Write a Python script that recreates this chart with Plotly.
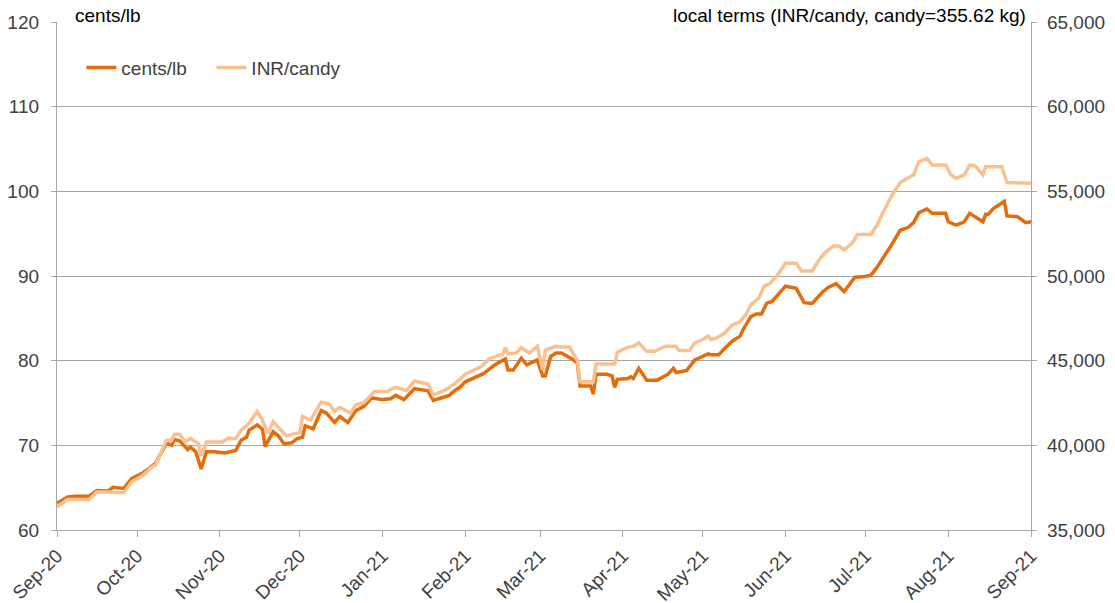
import pandas as pd
import plotly.graph_objects as go

START = "2020-09-01"

# cents/lb series: days since START and values
cents_days = [0, 4, 7, 12, 15, 19, 21, 25, 28, 32, 35, 37, 41, 43, 44, 46, 49, 50, 52, 54,
              56, 59, 63, 67, 69, 71, 72, 75, 77, 78, 81, 83, 85, 88, 90, 92, 93, 96, 99, 101,
              104, 106, 109, 112, 115, 118, 122, 125, 127, 130, 134, 139, 141, 145, 147, 149, 151, 153, 155, 158,
              160, 164, 166, 168, 169, 171, 174, 176, 180, 182, 183, 185, 187, 189, 193, 195, 196, 200, 201, 202,
              206, 208, 209, 210, 214, 215, 216, 218, 221, 225, 229, 231, 232, 236, 239, 244, 245, 248, 251, 253,
              256, 257, 260, 262, 264, 266, 268, 270, 273, 277, 280, 283, 287, 289, 292, 295, 299, 302, 305, 307,
              310, 312, 316, 319, 321, 323, 326, 328, 333, 334, 337, 340, 342, 345, 347, 348, 349, 351, 353, 355,
              356, 360, 363, 365]
cents = [63.15, 63.9, 64.0, 64.0, 64.65, 64.6, 65.05, 64.9, 66.1, 66.7, 67.4, 67.9, 70.25, 70.0, 70.7, 70.5, 69.5, 69.8, 69.25, 67.2,
         69.25, 69.25, 69.1, 69.4, 70.6, 70.95, 71.8, 72.4, 71.9, 69.85, 71.6, 71.1, 70.2, 70.3, 70.8, 70.95, 72.3, 71.95, 74.1, 73.8,
         72.7, 73.4, 72.7, 74.1, 74.6, 75.6, 75.4, 75.5, 75.9, 75.4, 76.7, 76.45, 75.3, 75.75, 75.9, 76.45, 76.85, 77.5, 77.8, 78.3,
         78.5, 79.5, 79.9, 80.2, 78.9, 78.9, 80.3, 79.5, 80.1, 78.2, 78.2, 80.5, 80.9, 80.9, 80.2, 79.7, 77.0, 77.0, 76.05, 78.4,
         78.4, 78.2, 76.85, 77.8, 77.9, 78.1, 77.9, 79.1, 77.7, 77.7, 78.4, 79.1, 78.6, 78.85, 80.1, 80.8, 80.7, 80.7, 81.7, 82.3,
         82.9, 83.6, 85.2, 85.5, 85.5, 86.8, 87.0, 87.75, 88.8, 88.55, 86.85, 86.75, 88.15, 88.65, 89.1, 88.15, 89.85, 89.9, 90.1, 90.9,
         92.3, 93.3, 95.4, 95.75, 96.3, 97.5, 97.9, 97.4, 97.4, 96.4, 96.0, 96.4, 97.4, 96.8, 96.4, 97.3, 97.3, 98.0, 98.4, 98.8,
         97.1, 97.0, 96.3, 96.4]

# INR/candy series: days since START and values
inr_days = [0, 4, 12, 15, 19, 25, 28, 32, 35, 37, 41, 43, 44, 46, 48, 50, 53, 54, 56, 62,
            64, 67, 69, 71, 72, 75, 77, 79, 81, 83, 86, 88, 91, 92, 95, 99, 102, 104, 106, 110,
            112, 115, 119, 124, 125, 127, 131, 134, 139, 141, 145, 149, 153, 156, 159, 162, 166, 167, 168, 169,
            172, 174, 177, 180, 182, 183, 187, 189, 192, 195, 196, 201, 202, 209, 210, 214, 216, 218, 221, 224,
            228, 232, 233, 237, 239, 242, 244, 245, 247, 250, 253, 256, 258, 260, 263, 265, 267, 270, 273, 277,
            279, 283, 286, 288, 291, 293, 295, 298, 300, 305, 307, 310, 313, 316, 319, 321, 323, 326, 328, 333,
            335, 337, 340, 342, 344, 347, 348, 354, 356, 365]
inr = [36375, 36800, 36800, 37250, 37250, 37200, 37850, 38200, 38650, 38850, 40300, 40300, 40650, 40650, 40200, 40400, 40100, 39375, 40200, 40200,
       40400, 40400, 40900, 41200, 41300, 42000, 41500, 40700, 41400, 41050, 40550, 40650, 40750, 41700, 41500, 42550, 42450, 42000, 42250, 41900,
       42400, 42525, 43175, 43175, 43300, 43425, 43225, 43800, 43625, 42975, 43225, 43625, 44200, 44425, 44650, 45100, 45350, 45350, 45775, 45400,
       45450, 45775, 45450, 45850, 44450, 45625, 45850, 45800, 45800, 45000, 43750, 43750, 44800, 44800, 45500, 45800, 45850, 46050, 45550, 45550,
       45850, 45850, 45600, 45600, 46050, 46250, 46450, 46250, 46325, 46600, 47100, 47300, 47700, 48300, 48700, 49400, 49550, 50050, 50750, 50750,
       50300, 50300, 51050, 51400, 51775, 51775, 51550, 51950, 52450, 52450, 52925, 53900, 54800, 55525, 55775, 55975, 56750, 56950, 56550, 56550,
       55975, 55775, 55975, 56550, 56500, 55975, 56450, 56450, 55525, 55475]

month_ticks = pd.date_range("2020-09-01", "2021-09-01", freq="MS")

base = pd.Timestamp(START)
cents_dates = base + pd.to_timedelta(cents_days, unit="D")
inr_dates = base + pd.to_timedelta(inr_days, unit="D")

DARK = "#E46C0A"
LIGHT = "#FAC090"
GRID = "#A6A6A6"
FONT = "Liberation Sans, Arial, sans-serif"
FS = 19

fig = go.Figure()
fig.add_trace(go.Scatter(x=cents_dates, y=cents, name="cents/lb", mode="lines",
                         line=dict(color=DARK, width=3.5), yaxis="y"))
fig.add_trace(go.Scatter(x=inr_dates, y=inr, name="INR/candy", mode="lines",
                         line=dict(color=LIGHT, width=3.5), yaxis="y2"))

fig.update_layout(
    width=1115, height=603,
    margin=dict(l=57, r=84, t=22, b=73, autoexpand=False),
    paper_bgcolor="white", plot_bgcolor="white",
    font=dict(family=FONT, size=FS, color="#404040"),
    showlegend=True,
    legend=dict(orientation="h", x=0.025, y=0.91, xanchor="left", yanchor="middle",
                font=dict(size=FS, color="#404040"), bgcolor="rgba(0,0,0,0)",
                entrywidth=85, traceorder="normal"),
    xaxis=dict(type="date", range=["2020-09-01", "2021-09-01"],
               tickvals=month_ticks, tickformat="%b-%y", tickangle=-45,
               showgrid=False, showline=True, linecolor=GRID, linewidth=1.3,
               ticks="outside", ticklen=6, tickcolor=GRID, tickwidth=1.3,
               tickfont=dict(size=FS, color="#404040"), zeroline=False),
    yaxis=dict(range=[60, 120], dtick=10, tick0=60,
               showgrid=True, gridcolor=GRID, gridwidth=1.3,
               showline=True, linecolor=GRID, linewidth=1.3,
               ticks="outside", ticklen=5, tickcolor=GRID, tickwidth=1.3,
               ticklabelstandoff=8, zeroline=False,
               tickfont=dict(size=FS, color="#404040")),
    yaxis2=dict(range=[35000, 65000], dtick=5000, tick0=35000, overlaying="y", side="right",
                showgrid=False, showline=True, linecolor=GRID, linewidth=1.3,
                ticks="outside", ticklen=5, tickcolor=GRID, tickwidth=1.3,
                tickformat=",", ticklabelstandoff=6, zeroline=False,
                tickfont=dict(size=FS, color="#404040")),
    annotations=[
        dict(text="cents/lb", xref="paper", yref="paper", x=0.016, y=1.0,
             xanchor="left", yanchor="bottom", showarrow=False, yshift=-6,
             font=dict(size=FS, color="#000000", family=FONT)),
        dict(text="local terms (INR/candy, candy=355.62 kg)", xref="paper", yref="paper",
             x=0.997, y=1.0, xanchor="right", yanchor="bottom", showarrow=False, yshift=-6,
             font=dict(size=FS, color="#000000", family=FONT)),
    ],
)

fig.write_html("out.html",
               config={"displayModeBar": False},
               post_script="document.body.style.margin='0';document.body.style.overflow='hidden';")
